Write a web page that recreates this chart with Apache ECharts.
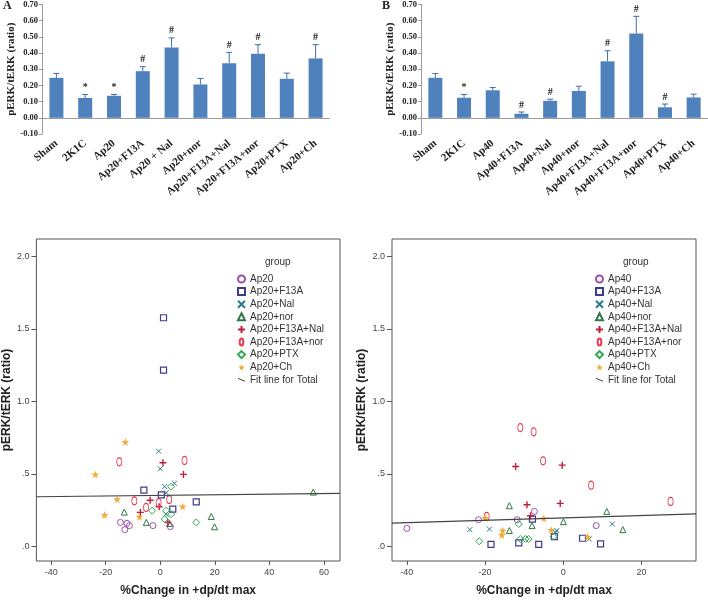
<!DOCTYPE html>
<html><head><meta charset="utf-8">
<script src="https://cdn.jsdelivr.net/npm/echarts@6/dist/echarts.min.js"></script>
<style>html,body{margin:0;padding:0;background:#fff}#c{width:708px;height:602px}</style>
</head><body><div id="c"></div>
<script>
// ---------- Panel A (bar) ----------
const catsA = ['Sham','2K1C','Ap20','Ap20+F13A','Ap20 + Nal','Ap20+nor','Ap20+F13A+Nal','Ap20+F13A+nor','Ap20+PTX','Ap20+Ch'];
const meansA = [0.247,0.123,0.136,0.288,0.434,0.206,0.337,0.396,0.241,0.367];
const errTopA = [0.274,0.144,0.144,0.316,0.494,0.243,0.404,0.452,0.276,0.452];
const marksA = ['','*','*','#','#','','#','#','','#'];
// ---------- Panel B (bar) ----------
const catsB = ['Sham','2K1C','Ap40','Ap40+F13A','Ap40+Nal','Ap40+nor','Ap40+F13A+Nal','Ap40+F13A+nor','Ap40+PTX','Ap40+Ch'];
const meansB = [0.247,0.124,0.170,0.025,0.105,0.166,0.349,0.521,0.065,0.126];
const errTopB = [0.274,0.144,0.187,0.036,0.115,0.195,0.414,0.627,0.085,0.146];
const marksB = ['','*','','#','#','','#','#','#',''];
const barTicks = [-0.1,0.7,0.1];

// ---------- Scatter left (Ap20) ----------
const groupsA = ['Ap20','Ap20+F13A','Ap20+Nal','Ap20+nor','Ap20+F13A+Nal','Ap20+F13A+nor','Ap20+PTX','Ap20+Ch'];
const ap20 = [[-14.6,0.166],[-12.2,0.160],[-11.3,0.144],[-13.0,0.116],[-2.7,0.144],[3.7,0.137]];
const ap20F13A = [[1.2,1.577],[1.2,1.216],[-6.0,0.388],[0.4,0.356],[4.6,0.258],[13.2,0.308]];
const ap20Nal = [[-0.6,0.657],[0.0,0.536],[1.6,0.413],[5.2,0.436],[2.2,0.370],[2.1,0.223]];
const ap20Nor = [[56.1,0.375],[-13.2,0.237],[-5.1,0.166],[18.7,0.207],[19.9,0.136],[3.4,0.159]];
const ap20F13ANal = [[1.0,0.577],[8.5,0.497],[-3.7,0.319],[-0.4,0.274],[-7.3,0.235],[2.8,0.166]];
const ap20F13ANor = [[-15.0,0.584],[8.9,0.593],[-9.5,0.315],[-0.6,0.303],[3.3,0.324],[-5.2,0.269]];
const ap20PTX = [[4.0,0.413],[-3.0,0.247],[2.1,0.247],[4.0,0.223],[1.6,0.189],[13.2,0.166]];
const ap20Ch = [[-12.8,0.721],[-23.8,0.497],[-15.8,0.326],[-20.4,0.217],[-7.6,0.205],[8.2,0.276]];
const fitA = [[-45.4,0.343],[65.9,0.366]];
const xRangeA = [-45.4,65.9];

// ---------- Scatter right (Ap40) ----------
const groupsB = ['Ap40','Ap40+F13A','Ap40+Nal','Ap40+nor','Ap40+F13A+Nal','Ap40+F13A+nor','Ap40+PTX','Ap40+Ch'];
const ap40 = [[-40.0,0.125],[-21.7,0.185],[-11.8,0.185],[-7.4,0.242],[8.4,0.144]];
const ap40F13A = [[-18.5,0.014],[-11.4,0.025],[-6.3,0.014],[-2.3,0.068],[4.9,0.057],[9.5,0.018],[-7.9,0.189]];
const ap40Nal = [[-23.9,0.116],[-18.9,0.120],[-2.0,0.098],[-1.7,0.110],[6.6,0.052],[12.5,0.155]];
const ap40Nor = [[-13.8,0.281],[-13.8,0.110],[-8.0,0.144],[0.0,0.171],[11.1,0.242],[15.2,0.116]];
const ap40F13ANal = [[-12.2,0.552],[-0.3,0.561],[-9.3,0.288],[-0.8,0.297],[-8.4,0.212]];
const ap40F13ANor = [[-11.0,0.820],[-7.6,0.791],[-5.2,0.591],[7.1,0.423],[27.4,0.311],[-19.6,0.207]];
const ap40PTX = [[-21.5,0.036],[-11.4,0.155],[-11.0,0.052],[-9.7,0.052],[-8.9,0.052],[-2.5,0.068]];
const ap40Ch = [[-20.0,0.197],[-15.5,0.110],[-15.7,0.079],[-5.0,0.194],[-3.1,0.114],[6.2,0.068]];
const fitB = [[-43.8,0.161],[33.9,0.225]];
const xRangeB = [-43.8,33.9];
const yRangeScatter = [-0.10,2.12];

const dataA = [ap20,ap20F13A,ap20Nal,ap20Nor,ap20F13ANal,ap20F13ANor,ap20PTX,ap20Ch];
const dataB = [ap40,ap40F13A,ap40Nal,ap40Nor,ap40F13ANal,ap40F13ANor,ap40PTX,ap40Ch];

const styles = [
  {symbol:'circle', size:6, color:'#9a50a8', fill:false, bw:1},
  {symbol:'rect', size:6, color:'#3c3c8e', fill:false, bw:1.2},
  {symbol:'path://M0,0L10,10M10,0L0,10', size:5, color:'#2b7a8c', fill:false, bw:1},
  {symbol:'triangle', size:6, color:'#2f7a44', fill:false, bw:1},
  {symbol:'path://M5,0L5,10M0,5L10,5', size:7, color:'#c01f3c', fill:false, bw:1.4},
  {symbol:'path://M5,0C8.5,0 8.5,10 5,10C1.5,10 1.5,0 5,0Z', size:[5,8], color:'#e8364f', fill:false, bw:1},
  {symbol:'diamond', size:7, color:'#2ea84e', fill:false, bw:1},
  {symbol:'path://M5,0L6.2,3.6L10,3.6L6.9,5.9L8.1,9.5L5,7.3L1.9,9.5L3.1,5.9L0,3.6L3.8,3.6Z', size:8, color:'#f2a93b', fill:true, bw:0}
];

const serif = '"Liberation Serif","Times New Roman",serif';
const sans = '"Liberation Sans",Arial,sans-serif';

function barPanel(idx, cats, means, errs, marks) {
  return [
    {type:'bar', xAxisIndex:idx, yAxisIndex:idx, data:means, barWidth:14,
     itemStyle:{color:'#4f81bd'}, silent:true,
     markLine:{silent:true, symbol:'none', label:{show:false},
       lineStyle:{color:'#9a9a9a', type:'solid', width:1}, data:[{yAxis:0}]}},
    {type:'custom', xAxisIndex:idx, yAxisIndex:idx, silent:true,
     data: means.map((m,i)=>[i,m,errs[i]]),
     renderItem:function(params, api){
       const i = api.value(0);
       const p0 = api.coord([i, api.value(1)]);
       const p1 = api.coord([i, api.value(2)]);
       const ch = [
         {type:'line', shape:{x1:p0[0],y1:p0[1],x2:p1[0],y2:p1[1]}, style:{stroke:'#3f6ea5', lineWidth:1}},
         {type:'line', shape:{x1:p1[0]-3,y1:p1[1],x2:p1[0]+3,y2:p1[1]}, style:{stroke:'#3f6ea5', lineWidth:1}}
       ];
       const mk = marks[params.dataIndex];
       if (mk) ch.push({type:'text', style:{text:mk, x:p1[0], y:p1[1]-2, align:'center', verticalAlign:'bottom',
         font:'bold 10px '+serif, fill:'#222'}});
       return {type:'group', children:ch};
     }}
  ];
}

function scatterPanel(idx, groups, data, fit) {
  const s = groups.map((g,k)=>({
    type:'scatter', name:g, xAxisIndex:idx, yAxisIndex:idx, data:data[k],
    symbol:styles[k].symbol, symbolSize:styles[k].size, silent:true,
    itemStyle:{color: styles[k].fill ? styles[k].color : 'transparent',
      borderColor: styles[k].color, borderWidth: styles[k].bw, opacity:1}
  }));
  s.push({type:'line', name:'Fit line for Total', xAxisIndex:idx, yAxisIndex:idx, data:fit,
    symbol:'none', silent:true, lineStyle:{color:'#444', width:1.2}, itemStyle:{color:'#444'}});
  return s;
}

const yBar = (idx)=>({type:'value', gridIndex:idx, min:barTicks[0], max:barTicks[1], interval:barTicks[2],
  splitLine:{show:false}, axisLine:{show:true, onZero:false, lineStyle:{color:'#999'}},
  axisTick:{show:true, length:3, lineStyle:{color:'#999'}},
  axisLabel:{formatter:v=>v.toFixed(2), fontFamily:serif, fontWeight:'bold', fontSize:8.5, color:'#222', margin:4},
  name:'pERK/tERK (ratio)', nameLocation:'middle', nameGap:20,
  nameTextStyle:{fontFamily:serif, fontWeight:'bold', fontSize:11, color:'#222'}});
const xBar = (idx, cats)=>({type:'category', gridIndex:idx, data:cats,
  axisLine:{show:false, onZero:false}, axisTick:{show:false},
  axisLabel:{interval:0, rotate:40, fontFamily:serif, fontWeight:'bold', fontSize:11, color:'#222', margin:8}});

const yFmt = v => (Math.abs(v) < 1e-9 ? '.0' : v.toFixed(1).replace(/^0\./,'.'));
const xSc = (idx, r)=>({type:'value', gridIndex:idx, min:r[0], max:r[1],
  splitLine:{show:false}, axisLine:{show:false, onZero:false},
  axisTick:{show:true, length:4, lineStyle:{color:'#555'}},
  axisLabel:{fontFamily:sans, fontSize:9, color:'#444', margin:7, showMinLabel:false, showMaxLabel:false},
  name:'%Change in +dp/dt max', nameLocation:'middle', nameGap:24,
  nameTextStyle:{fontFamily:sans, fontWeight:'bold', fontSize:12, color:'#222'}});
const ySc = (idx, gap)=>({type:'value', gridIndex:idx, min:yRangeScatter[0], max:yRangeScatter[1],
  splitLine:{show:false}, axisLine:{show:false, onZero:false},
  axisTick:{show:true, length:5, lineStyle:{color:'#555'}},
  axisLabel:{formatter:yFmt, fontFamily:sans, fontSize:9, color:'#444', margin:7, showMinLabel:false, showMaxLabel:false},
  name:'pERK/tERK (ratio)', nameLocation:'middle', nameGap:gap,
  nameTextStyle:{fontFamily:sans, fontWeight:'bold', fontSize:12, color:'#222'}});

const legendFor = (groups, left)=>({
  orient:'vertical', left:left, top:274, padding:0, itemGap:2.6, itemWidth:7, itemHeight:7,
  selectedMode:false,
  textStyle:{fontFamily:sans, fontSize:10, color:'#333', lineHeight:10},
  data: groups.concat([{name:'Fit line for Total', icon:'path://M0,0L20,8',
     itemStyle:{color:'transparent', borderColor:'#444', borderWidth:1}}])
});

const chart = echarts.init(document.getElementById('c'), null, {renderer:'canvas'});
chart.setOption({
  animation:false,
  backgroundColor:'#fff',
  grid:[
    {left:42, top:3, width:288, height:131},
    {left:421, top:3, width:287, height:131},
    {left:36, top:239, width:304, height:325, show:true, borderColor:'#555', borderWidth:1, backgroundColor:'transparent'},
    {left:392, top:239, width:304, height:325, show:true, borderColor:'#555', borderWidth:1, backgroundColor:'transparent'}
  ],
  xAxis:[xBar(0,catsA), xBar(1,catsB), xSc(2,xRangeA), xSc(3,xRangeB)],
  yAxis:[yBar(0), yBar(1), ySc(2,22), ySc(3,24)],
  legend:[legendFor(groupsA, 237), legendFor(groupsB, 595)],
  graphic:[
    {type:'text', left:3, top:0, style:{text:'A', font:'bold 12px '+serif, fill:'#222'}},
    {type:'text', left:382, top:0, style:{text:'B', font:'bold 12px '+serif, fill:'#222'}},
    {type:'text', left:265, top:257, style:{text:'group', font:'10px '+sans, fill:'#333'}},
    {type:'text', left:623, top:257, style:{text:'group', font:'10px '+sans, fill:'#333'}}
  ],
  series:[].concat(
    barPanel(0, catsA, meansA, errTopA, marksA),
    barPanel(1, catsB, meansB, errTopB, marksB),
    scatterPanel(2, groupsA, dataA, fitA),
    scatterPanel(3, groupsB, dataB, fitB)
  )
});
</script></body></html>
